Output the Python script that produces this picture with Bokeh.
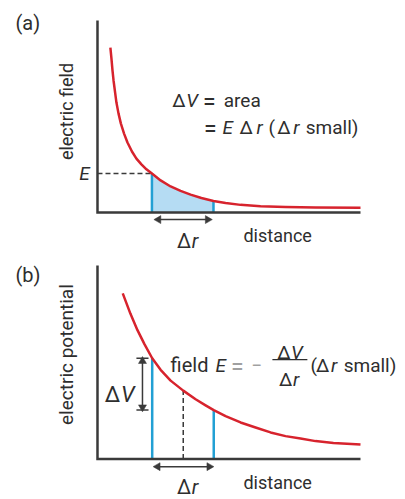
import math
from bokeh.plotting import figure
from bokeh.layouts import column
from bokeh.models import Range1d
from bokeh.core.properties import value
from bokeh.embed import file_html
from bokeh.resources import INLINE

# ---------------- data ----------------
# (a) electric field vs distance
dist_a = [0.49, 0.53, 0.57, 0.61, 0.67, 0.72, 0.80, 0.89, 1.01, 1.14, 1.31, 1.48, 1.67,
          1.86, 2.07, 2.40, 2.78, 3.16, 3.54, 3.95, 4.41, 4.87, 5.44, 6.20, 7.15, 8.29, 10.0]
field_a = [6.27, 5.86, 5.40, 5.02, 4.56, 4.18, 3.76, 3.38, 3.00, 2.66, 2.32, 2.05, 1.83,
           1.64, 1.48, 1.22, 0.99, 0.82, 0.68, 0.55, 0.44, 0.36, 0.29, 0.24, 0.21, 0.19, 0.18]
i1_a, i2_a = 14, 20          # indices of the two blue lines (r and r + dr)

# (b) electric potential vs distance
dist_b = [0.96, 1.25, 1.52, 1.79, 2.08, 2.40, 2.78, 3.26, 3.73, 4.11, 4.42, 4.87, 5.44,
          6.01, 6.58, 7.15, 7.72, 8.29, 8.97, 10.0]
pot_b = [6.30, 5.53, 4.90, 4.36, 3.83, 3.39, 2.98, 2.60, 2.27, 2.04, 1.86, 1.63, 1.39,
         1.20, 1.01, 0.87, 0.78, 0.68, 0.61, 0.55]
i1_b, im_b, i2_b = 4, 7, 10  # blue lines and dashed mid line

axis_len_x = 10.0
axis_len_y_a = 7.30
axis_len_y_b = 7.36

# ---------------- styles ----------------
FONT = "Roboto"
TEXT = "#2e2e2e"
AXIS = "#3a3a3a"
RED = "#d7232d"
BLUE = "#22a0d4"
FILL = "#b5dcf3"
GREY = "#a0a0a0"
FS = 19
W = 405
HEAD = 0.11   # head centre inset from the arrow tip (data units)


def make_fig(h, yr):
    p = figure(width=W, height=h, x_range=Range1d(-3.688, 11.711), y_range=Range1d(*yr),
               output_backend="svg", toolbar_location=None, x_axis_type=None, y_axis_type=None,
               min_border=0)
    p.grid.visible = False
    p.outline_line_color = None
    p.background_fill_color = "white"
    p.border_fill_color = "white"
    return p


def txt(p, x, y, s, size=FS, style="normal", align="left", baseline="alphabetic",
        color=TEXT, angle=0.0):
    p.text(x=[x], y=[y], text=[s], text_font=value(FONT), text_font_size=f"{size}px",
           text_font_style=style, text_align=align, text_baseline=baseline,
           text_color=color, angle=angle)


def harrow(p, x0, x1, y):
    p.segment(x0=[x0 + HEAD], y0=[y], x1=[x1 - HEAD], y1=[y], line_color=AXIS, line_width=1.5)
    p.scatter(x=[x0 + HEAD, x1 - HEAD], y=[y, y], marker="triangle", size=8,
              angle=[math.pi / 2, -math.pi / 2], fill_color=AXIS, line_color=AXIS,
              line_width=0.5)


def varrow(p, x, y0, y1):
    p.segment(x0=[x], y0=[y0 + HEAD], x1=[x], y1=[y1 - HEAD], line_color=AXIS, line_width=1.5)
    p.scatter(x=[x, x], y=[y0 + HEAD, y1 - HEAD], marker="triangle", size=8,
              angle=[math.pi, 0.0], fill_color=AXIS, line_color=AXIS, line_width=0.5)


# ================= panel (a) =================
pa = make_fig(252, (-1.521, 8.061))

pa.varea(x=dist_a[i1_a:i2_a + 1], y1=[0] * (i2_a - i1_a + 1), y2=field_a[i1_a:i2_a + 1],
         fill_color=FILL)
pa.line(x=[0, dist_a[i1_a]], y=[field_a[i1_a]] * 2, line_color=AXIS, line_width=1.5,
        line_dash="5 3")
for i in (i1_a, i2_a):
    pa.line(x=[dist_a[i]] * 2, y=[0, field_a[i]], line_color=BLUE, line_width=2.5)
pa.line(x=dist_a, y=field_a, line_color=RED, line_width=2.5, line_join="round")
pa.line(x=[0, 0, axis_len_x], y=[axis_len_y_a, 0, 0], line_color=AXIS, line_width=2.5,
        line_join="miter")

harrow(pa, 2.21, 4.30, -0.27)

txt(pa, -3.12, 7.22, "(a)", size=20, baseline="middle")
txt(pa, -1.18, 3.84, "electric field", size=18, align="center", baseline="middle",
    angle=1.5708)
txt(pa, -0.30, field_a[i1_a], "E", size=19, style="italic", align="right", baseline="middle")
txt(pa, 5.55, -0.87, "distance", size=18)
txt(pa, 3.56, -1.065, "\u0394", size=20, align="right")
txt(pa, 3.58, -1.065, "r", size=20, style="italic")

# equation lines
y1 = 4.26
txt(pa, 3.35, y1, "\u0394", align="right")
txt(pa, 3.37, y1, "V", style="italic")
txt(pa, 4.01, y1 - 0.09, "=", size=23)
txt(pa, 4.80, y1, "area")
y2 = 3.23
txt(pa, 4.05, y2 - 0.09, "=", size=23)
txt(pa, 4.75, y2, "E", style="italic")
txt(pa, 5.40, y2, "\u0394")
txt(pa, 6.05, y2, "r", style="italic")
txt(pa, 6.50, y2, "(")
txt(pa, 6.83, y2, "\u0394")
txt(pa, 7.44, y2, "r", style="italic")
txt(pa, 7.92, y2, "small)")

# ================= panel (b) =================
pb = make_fig(247, (-1.540, 7.852))

for i in (i1_b, i2_b):
    pb.line(x=[dist_b[i]] * 2, y=[0, pot_b[i]], line_color=BLUE, line_width=2.5)
pb.line(x=[dist_b[im_b]] * 2, y=[0, pot_b[im_b]], line_color=AXIS, line_width=1.5,
        line_dash="5 3")
pb.line(x=dist_b, y=pot_b, line_color=RED, line_width=2.5, line_join="round")
pb.line(x=[0, 0, axis_len_x], y=[axis_len_y_b, 0, 0], line_color=AXIS, line_width=2.5,
        line_join="miter")

# delta V bracket
xv = 1.71
varrow(pb, xv, pot_b[i2_b], pot_b[i1_b])
for i in (i1_b, i2_b):
    pb.line(x=[1.48, 1.94], y=[pot_b[i]] * 2, line_color=AXIS, line_width=1.5)
txt(pb, 0.87, 2.47, "\u0394", size=22, align="right")
txt(pb, 0.89, 2.47, "V", size=22, style="italic")

harrow(pb, 2.18, 4.36, -0.29)
txt(pb, 3.56, -1.08, "\u0394", size=20, align="right")
txt(pb, 3.58, -1.08, "r", size=20, style="italic")

txt(pb, -3.12, 6.98, "(b)", size=20, baseline="middle")
txt(pb, -1.18, 3.97, "electric potential", size=19, align="center", baseline="middle",
    angle=1.5708)
txt(pb, 5.55, -0.89, "distance", size=18)

# equation: field E = - dV/dr (dr small)
ye = 3.56
txt(pb, 2.78, ye, "field", size=20)
txt(pb, 4.49, ye, "E", style="italic")
txt(pb, 5.08, ye - 0.09, "=", size=23, color=GREY)
txt(pb, 5.86, ye, "\u2212", color=GREY)
txt(pb, 7.34, 4.05, "\u0394", align="right")
txt(pb, 7.36, 4.05, "V", style="italic")
pb.line(x=[6.65, 7.98], y=[3.78, 3.78], line_color=TEXT, line_width=1.3)
txt(pb, 7.41, 3.02, "\u0394", align="right")
txt(pb, 7.43, 3.02, "r", style="italic")
txt(pb, 8.10, ye, "(")
txt(pb, 8.31, ye, "\u0394")
txt(pb, 8.88, ye, "r", style="italic")
txt(pb, 9.36, ye, "small)")

layout = column(pa, pb, spacing=0)
open("out.html", "w").write(file_html(layout, INLINE))
